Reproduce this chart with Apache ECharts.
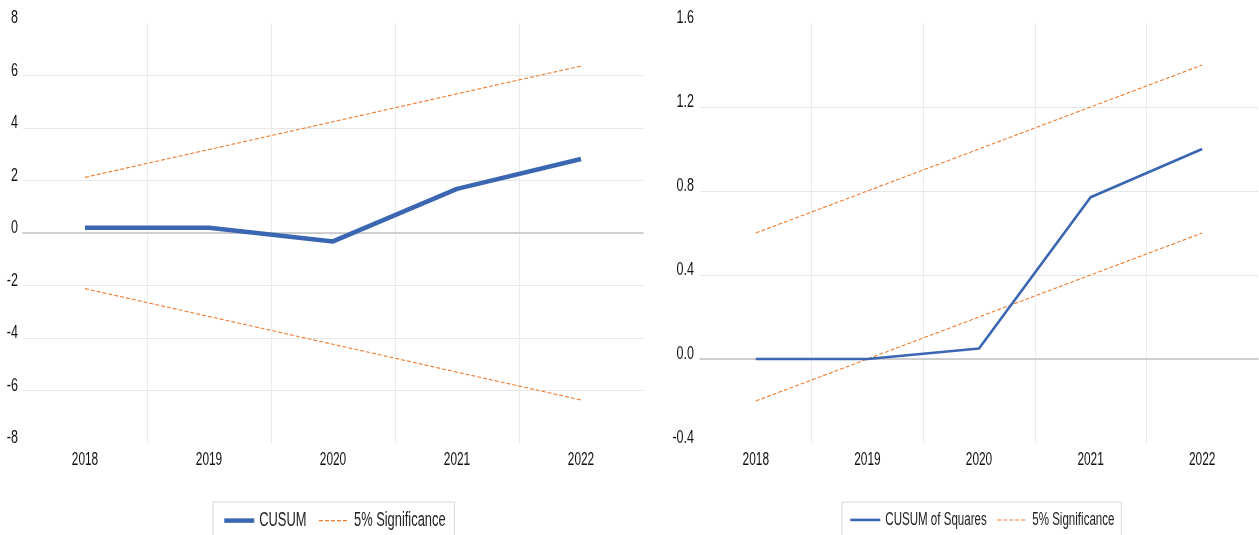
<!DOCTYPE html>
<html>
<head>
<meta charset="utf-8">
<title>CUSUM and CUSUM of Squares</title>
<script src="https://cdn.jsdelivr.net/npm/echarts@6/dist/echarts.min.js"></script>
<style>
  html, body { margin: 0; padding: 0; background: #ffffff; }
  #wrap { position: relative; width: 1259px; height: 535px; overflow: hidden; }
  #cusum { position: absolute; left: 0; top: 0; width: 650px; height: 535px; }
  #cusumsq { position: absolute; left: 650px; top: 0; width: 609px; height: 535px; }
</style>
</head>
<body>
<div id="wrap">
  <div id="cusum"></div>
  <div id="cusumsq"></div>
</div>
<script>
// Recursive-residual stability tests, 2018-2022
const years = ['2018', '2019', '2020', '2021', '2022'];

// CUSUM statistic with its 5% significance band
const cusum = [0.2, 0.2, -0.32, 1.68, 2.82];
const cusumUpper = [2.12, 3.18, 4.24, 5.30, 6.36];
const cusumLower = [-2.12, -3.18, -4.24, -5.30, -6.36];
const cusumTicks = [-8, -6, -4, -2, 0, 2, 4, 6, 8];

// CUSUM of squares with its 5% significance band
const cusumSq = [0.0, 0.0, 0.05, 0.77, 1.0];
const cusumSqUpper = [0.6, 0.8, 1.0, 1.2, 1.4];
const cusumSqLower = [-0.2, 0.0, 0.2, 0.4, 0.6];
const cusumSqTicks = [-0.4, 0.0, 0.4, 0.8, 1.2, 1.6];

const BLUE = '#3b67b2';
const ORANGE = '#ed7d31';
const FONT = '"Liberation Sans", Arial, sans-serif';

// No narrow face is installed, so text is drawn horizontally condensed:
// glyphs are squeezed around their anchor and measurements follow suit,
// keeping alignment and legend spacing consistent.
(function condenseCanvasText(sx) {
  const proto = CanvasRenderingContext2D.prototype;
  const fill = proto.fillText;
  const stroke = proto.strokeText;
  const measure = proto.measureText;
  proto.fillText = function (text, x, y) {
    this.save();
    this.translate(x, y);
    this.scale(sx, 1);
    fill.call(this, text, 0, 0);
    this.restore();
  };
  proto.strokeText = function (text, x, y) {
    this.save();
    this.translate(x, y);
    this.scale(sx, 1);
    stroke.call(this, text, 0, 0);
    this.restore();
  };
  proto.measureText = function (text) {
    const m = measure.call(this, text);
    return {
      width: m.width * sx,
      actualBoundingBoxLeft: m.actualBoundingBoxLeft * sx,
      actualBoundingBoxRight: m.actualBoundingBoxRight * sx,
      actualBoundingBoxAscent: m.actualBoundingBoxAscent,
      actualBoundingBoxDescent: m.actualBoundingBoxDescent,
      fontBoundingBoxAscent: m.fontBoundingBoxAscent,
      fontBoundingBoxDescent: m.fontBoundingBoxDescent
    };
  };
})(0.66);

function buildOption(cfg) {
  const ticks = cfg.ticks;
  const step = ticks[1] - ticks[0];
  const bandStyle = { color: ORANGE, width: 1.1, type: [4, 2] };
  return {
    animation: false,
    backgroundColor: '#ffffff',
    grid: { left: cfg.gridLeft, right: cfg.gridRight, top: 23, bottom: 92, containLabel: false },
    legend: {
      left: cfg.legendLeft,
      top: 502,
      orient: 'horizontal',
      itemWidth: 30,
      itemHeight: 14,
      itemGap: cfg.legendGap,
      padding: [12, cfg.legendPad, 12, cfg.legendPad],
      borderColor: '#d9d9d9',
      borderWidth: 1,
      selectedMode: false,
      itemStyle: { opacity: 0 },
      data: [
        { name: cfg.mainName, lineStyle: { color: BLUE, width: cfg.mainWidth, type: 'solid' } },
        { name: '5% Significance', lineStyle: { color: ORANGE, width: 1.1, type: [4, 2] } }
      ],
      textStyle: { fontFamily: FONT, fontSize: cfg.legendFont, color: '#222222' }
    },
    xAxis: [
      {
        type: 'category',
        data: years,
        boundaryGap: true,
        axisLine: { show: false, onZero: false },
        axisTick: { show: false },
        axisLabel: {
          margin: 11,
          color: '#111111',
          fontFamily: FONT,
          fontSize: 18
        },
        splitLine: {
          show: true,
          showMinLine: false,
          showMaxLine: false,
          lineStyle: { color: '#ebebeb', width: 1 }
        }
      },
      {
        // zero baseline across the plot
        type: 'category',
        data: years,
        boundaryGap: true,
        position: 'bottom',
        axisLine: { show: true, onZero: true, onZeroAxisIndex: 0, lineStyle: { color: '#c4c4c4', width: 1.6 } },
        axisTick: { show: false },
        axisLabel: { show: false },
        splitLine: { show: false }
      }
    ],
    yAxis: {
      type: 'value',
      min: ticks[0],
      max: ticks[ticks.length - 1],
      interval: step,
      axisLine: { show: false },
      axisTick: { show: false },
      axisLabel: {
        margin: cfg.labelMargin,
        color: '#111111',
        fontFamily: FONT,
        fontSize: 19,
        verticalAlign: 'bottom',
        lineHeight: 10,
        formatter: v => cfg.decimals ? v.toFixed(cfg.decimals) : String(Math.round(v))
      },
      splitLine: {
        show: true,
        showMinLine: false,
        showMaxLine: false,
        lineStyle: { color: '#e6e6e6', width: 1 }
      }
    },
    series: [
      {
        name: '5% Significance',
        type: 'line',
        xAxisIndex: 0,
        data: cfg.upper,
        symbol: 'none',
        lineStyle: bandStyle,
        itemStyle: { color: ORANGE },
        z: 2
      },
      {
        name: '5% Significance',
        type: 'line',
        xAxisIndex: 0,
        data: cfg.lower,
        symbol: 'none',
        lineStyle: bandStyle,
        itemStyle: { color: ORANGE },
        z: 2
      },
      {
        name: cfg.mainName,
        type: 'line',
        xAxisIndex: 0,
        data: cfg.main,
        symbol: 'none',
        lineStyle: { color: BLUE, width: cfg.mainWidth },
        itemStyle: { color: BLUE },
        z: 3
      }
    ]
  };
}

const left = echarts.init(document.getElementById('cusum'));
left.setOption(buildOption({
  mainName: 'CUSUM',
  main: cusum,
  upper: cusumUpper,
  lower: cusumLower,
  ticks: cusumTicks,
  decimals: 0,
  mainWidth: 4.5,
  gridLeft: 23,
  gridRight: 7,
  labelMargin: 5,
  legendLeft: 213,
  legendFont: 19.5,
  legendPad: 9,
  legendGap: 12
}));

const right = echarts.init(document.getElementById('cusumsq'));
right.setOption(buildOption({
  mainName: 'CUSUM of Squares',
  main: cusumSq,
  upper: cusumSqUpper,
  lower: cusumSqLower,
  ticks: cusumSqTicks,
  decimals: 1,
  mainWidth: 2.6,
  gridLeft: 50,
  gridRight: 1,
  labelMargin: 6,
  legendLeft: 192,
  legendFont: 17.5,
  legendPad: 7,
  legendGap: 10
}));
</script>
</body>
</html>
